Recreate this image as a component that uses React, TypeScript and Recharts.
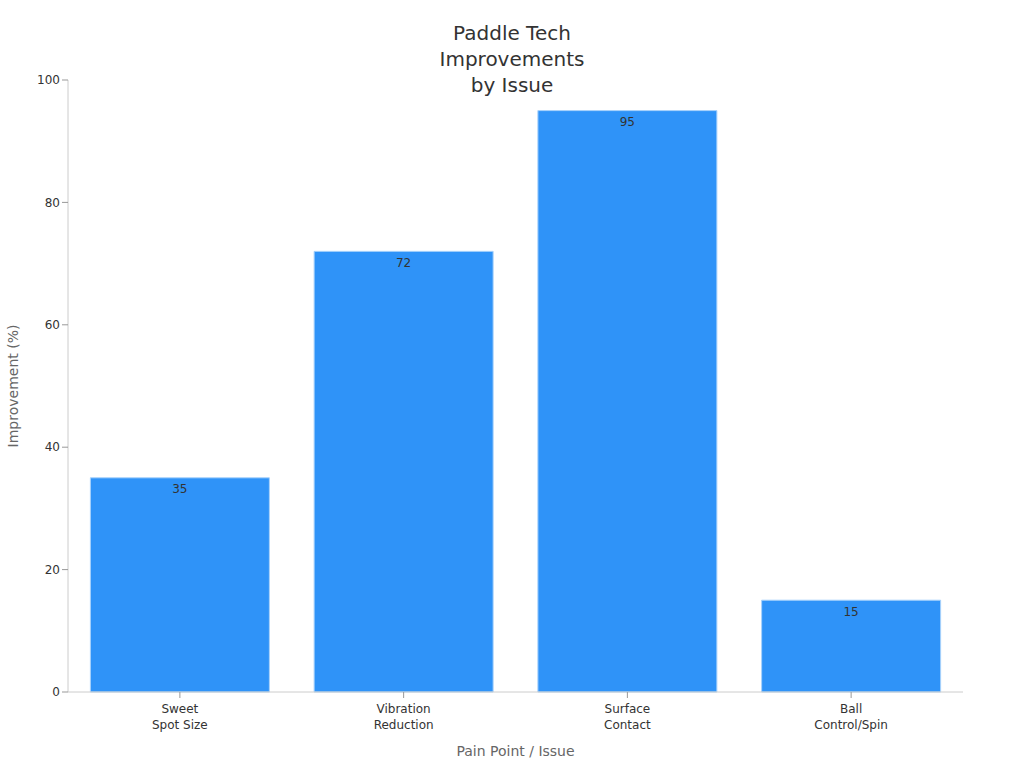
import { BarChart, Bar, XAxis, YAxis, LabelList } from "recharts"

const categories = ["Sweet\nSpot Size", "Vibration\nReduction", "Surface\nContact", "Ball\nControl/Spin"]
const improvement = [35, 72, 95, 15]
const yTicks = [0, 20, 40, 60, 80, 100]
const titleLines = ["Paddle Tech", "Improvements", "by Issue"]

const data = categories.map((name, i) => ({ name, value: improvement[i] }))

const font = "'DejaVu Sans', sans-serif"

function MultiLineTick(props: any) {
  const { x, y, payload } = props
  const lines = String(payload.value).split("\n")
  return (
    <text x={x} y={y + 4} textAnchor="middle" fill="#333" fontSize={12} fontFamily={font}>
      {lines.map((line, i) => (
        <tspan key={i} x={x} dy={i === 0 ? "0.71em" : 16}>
          {line}
        </tspan>
      ))}
    </text>
  )
}

export default function App() {
  if (typeof document !== "undefined") document.body.style.margin = "0"
  return (
    <div style={{ position: "relative", width: 1024, height: 768, background: "#fff", fontFamily: font }}>
      <div
        style={{
          position: "absolute",
          top: 20,
          left: 0,
          width: 1024,
          textAlign: "center",
          fontSize: 20,
          lineHeight: "26px",
          color: "#333",
        }}
      >
        {titleLines.map((t) => (
          <div key={t}>{t}</div>
        ))}
      </div>
      <BarChart
        width={1024}
        height={768}
        data={data}
        margin={{ top: 80, right: 61, bottom: 0, left: 0 }}
        barCategoryGap="10%"
      >
        <XAxis
          dataKey="name"
          tick={<MultiLineTick />}
          tickLine={{ stroke: "#999" }}
          axisLine={{ stroke: "#ccc" }}
          height={76}
          interval={0}
          label={{
            value: "Pain Point / Issue",
            position: "insideBottom",
            offset: 12,
            fill: "#666",
            fontSize: 14,
            fontFamily: font,
          }}
        />
        <YAxis
          domain={[0, 100]}
          ticks={yTicks}
          width={68}
          tick={{ fill: "#333", fontSize: 12, fontFamily: font }}
          tickLine={{ stroke: "#999" }}
          axisLine={{ stroke: "#ccc" }}
          label={{
            value: "Improvement (%)",
            angle: -90,
            position: "insideLeft",
            offset: 13,
            style: { textAnchor: "middle" },
            fill: "#666",
            fontSize: 14,
            fontFamily: font,
          }}
        />
        <Bar dataKey="value" fill="#2f93f8" stroke="#a9d2fb" strokeWidth={1} isAnimationActive={false}>
          <LabelList
            dataKey="value"
            position="insideTop"
            offset={7}
            fill="#333"
            fontSize={12}
            fontFamily={font}
          />
        </Bar>
      </BarChart>
    </div>
  )
}
